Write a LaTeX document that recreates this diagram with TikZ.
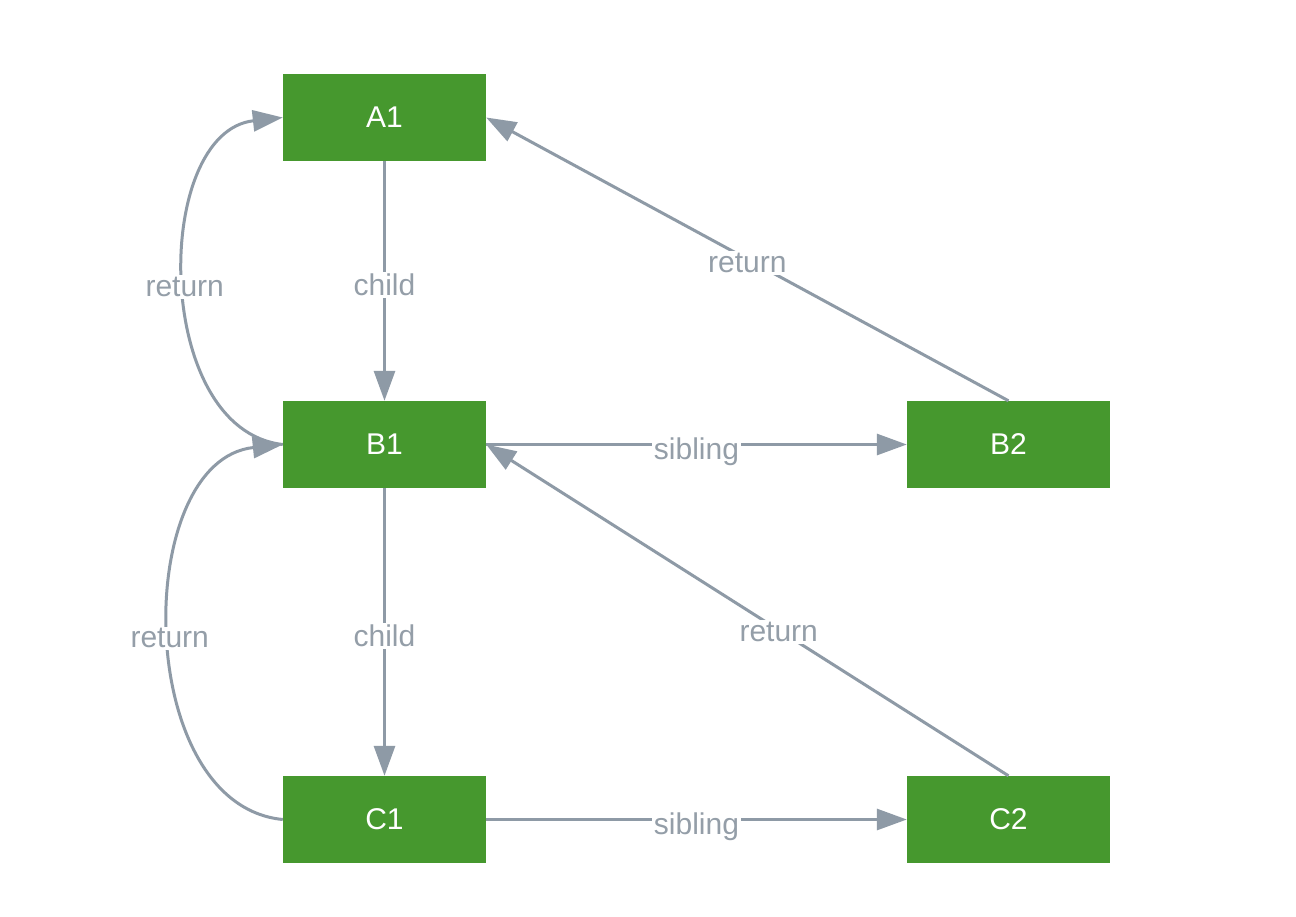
\documentclass[tikz,border=0pt]{standalone}
\usepackage{fontspec}
\setmainfont{Liberation Sans}
\usetikzlibrary{arrows.meta}
\definecolor{nodegreen}{RGB}{70,152,46}
\definecolor{edgegray}{RGB}{142,154,166}
\definecolor{labelgray}{RGB}{148,158,168}
\tikzset{
  box/.style={fill=nodegreen, draw=none, minimum width=203pt, minimum height=87pt, inner sep=0pt,
    text=white, font=\fontsize{30}{34}\selectfont},
  edge/.style={draw=edgegray, line width=3pt, -{Triangle[length=30pt,width=21pt]}},
  lbl/.style={fill=white, text=labelgray, inner sep=2pt, font=\fontsize{30}{34}\selectfont}
}
\begin{document}
\begin{tikzpicture}[x=1pt,y=-1pt]
\useasboundingbox[fill=white] (0,0) rectangle (1296,916);
\node[box] (A1) at (384.5,117.5) {A1};
\node[box] (B1) at (384.5,444.5) {B1};
\node[box] (B2) at (1008.5,444.5) {B2};
\node[box] (C1) at (384.5,819.5) {C1};
\node[box] (C2) at (1008.5,819.5) {C2};

\draw[edge] (A1.south) -- node[lbl, yshift=-4pt] {child} (B1.north);
\draw[edge] (B1.south) -- node[lbl, yshift=-4pt] {child} (C1.north);
\draw[edge] (B1.east) -- node[lbl, yshift=-7pt] {sibling} (B2.west);
\draw[edge] (C1.east) -- node[lbl, yshift=-7pt] {sibling} (C2.west);
\draw[edge] (B2.north) -- node[lbl, pos=0.5, yshift=-4pt] {return} (A1.east);
\draw[edge] (C2.north) -- node[lbl, pos=0.44, yshift=-2pt] {return} (B1.east);
\draw[edge] (B1.west) .. controls (152,430) and (152,132) .. node[lbl, yshift=-6pt] {return} (A1.west);
\draw[edge] (C1.west) .. controls (132,805) and (132,460) .. node[lbl, yshift=-6pt] {return} (B1.west);
\end{tikzpicture}
\end{document}
